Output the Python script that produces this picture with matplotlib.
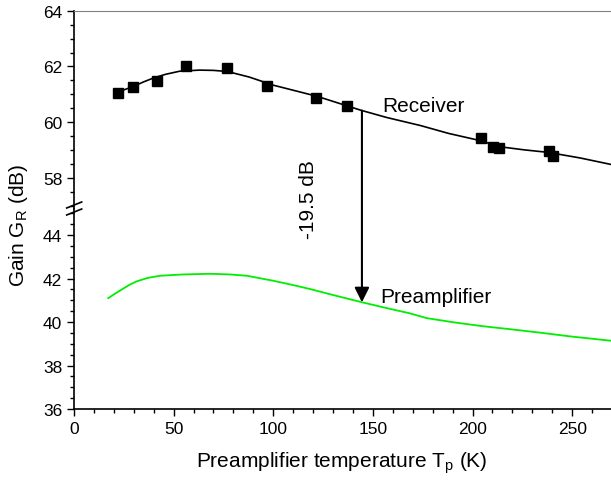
import numpy as np
import matplotlib
matplotlib.use("Agg")
import matplotlib.pyplot as plt
from matplotlib.patches import ConnectionPatch
from matplotlib.lines import Line2D
from matplotlib.ticker import MultipleLocator

plt.rcParams['font.family'] = ['Liberation Sans', 'DejaVu Sans']

# measured receiver gain (squares)
t_meas = [21.9, 29.6, 41.8, 56.0, 76.9, 97.0, 121.4, 137.1, 204.2, 210.1, 213.2, 238.3, 240.5]
g_meas = [61.06, 61.28, 61.48, 62.03, 61.94, 61.30, 60.88, 60.59, 59.43, 59.10, 59.07, 58.98, 58.80]

# fitted receiver curve
t_fit = [21, 25, 30, 35, 40, 46, 53, 63, 70, 77, 88, 100, 111, 122, 133, 144, 157, 174, 188, 204, 214, 226, 238, 254, 270]
g_fit = [61.04, 61.16, 61.29, 61.45, 61.59, 61.72, 61.83, 61.87, 61.86, 61.82, 61.62, 61.33, 61.13, 60.93, 60.68, 60.43, 60.17, 59.88, 59.60, 59.34, 59.12, 59.01, 58.92, 58.72, 58.48]

# preamplifier gain curve
t_pre = [17.2, 20, 24, 28, 31.4, 37, 43.2, 55, 68.2, 78, 86.7, 100, 110, 118.4, 131, 144.5, 157, 168.6, 177, 190.3, 205, 220.9, 235, 249, 269.5]
g_pre = [41.10, 41.27, 41.5, 41.72, 41.87, 42.03, 42.13, 42.19, 42.22, 42.19, 42.13, 41.90, 41.70, 41.52, 41.22, 40.91, 40.64, 40.40, 40.18, 39.99, 39.81, 39.65, 39.50, 39.34, 39.14]

arrow_t = 144.5
drop_label = "-19.5 dB"

fig = plt.figure(figsize=(6.11, 4.81), dpi=100)
y_break = 1 - 210 / 481
ax_top = fig.add_axes([74 / 611, y_break, 1 - 74 / 611, (1 - 11.7 / 481) - y_break])
ax_bot = fig.add_axes([74 / 611, 71 / 481, 1 - 74 / 611, y_break - 71 / 481])

ax_top.plot(t_fit, g_fit, color='black', lw=1.2)
ax_top.plot(t_meas, g_meas, 's', color='black', ms=6.5)
ax_bot.plot(t_pre, g_pre, color='#00ee00', lw=1.3)

ax_top.set_ylim(56.89, 64)
ax_bot.set_ylim(36, 45.2)
for ax in (ax_top, ax_bot):
    ax.set_xlim(0, 269.5)
    ax.spines['right'].set_visible(False)
    ax.yaxis.set_minor_locator(MultipleLocator(0.5))
    ax.xaxis.set_minor_locator(MultipleLocator(10))
    ax.xaxis.set_major_locator(MultipleLocator(50))
    ax.yaxis.set_major_locator(MultipleLocator(2))
    ax.tick_params(which='major', direction='out', length=5, width=1, labelsize=12.5)
    ax.tick_params(which='minor', direction='out', length=3, width=1)
    ax.spines['left'].set_linewidth(1.2)

ax_top.spines['bottom'].set_visible(False)
ax_top.spines['top'].set_color('#808080')
ax_top.tick_params(axis='x', which='both', bottom=False, labelbottom=False)
ax_top.set_yticks([58, 60, 62, 64])
ax_bot.spines['top'].set_visible(False)
ax_bot.spines['bottom'].set_linewidth(1.2)
ax_bot.set_yticks([36, 38, 40, 42, 44])

# break marks on the y axis
for yc in (206, 213):
    fig.add_artist(Line2D([66.7 / 611, 81.7 / 611], [1 - (yc + 3) / 481, 1 - (yc - 3) / 481],
                          color='black', lw=1.2))

# arrow between the two curves
y_a = np.interp(arrow_t, t_fit, g_fit)
y_b = np.interp(arrow_t, t_pre, g_pre)
con = ConnectionPatch(xyA=(arrow_t, y_a), coordsA=ax_top.transData,
                      xyB=(arrow_t, y_b), coordsB=ax_bot.transData,
                      arrowstyle='-|>', mutation_scale=22, lw=1.5, color='black',
                      shrinkA=0, shrinkB=0)
fig.add_artist(con)

ax_top.text(154.5, 60.41, "Receiver", fontsize=15, va='baseline', ha='left')
ax_bot.text(153.5, 40.91, "Preamplifier", fontsize=15, va='baseline', ha='left')
fig.text(308 / 611, 1 - 200 / 481, drop_label, rotation=90, fontsize=15, ha='center', va='center')

fig.text(19 / 611, 1 - 225 / 481, r"Gain G$_\mathregular{R}$ (dB)", rotation=90, fontsize=15,
         ha='center', va='center')
fig.text(342 / 611, 1 - 463 / 481, r"Preamplifier temperature T$_\mathregular{p}$ (K)", fontsize=15,
         ha='center', va='center')

fig.savefig("out.png", dpi=100)
